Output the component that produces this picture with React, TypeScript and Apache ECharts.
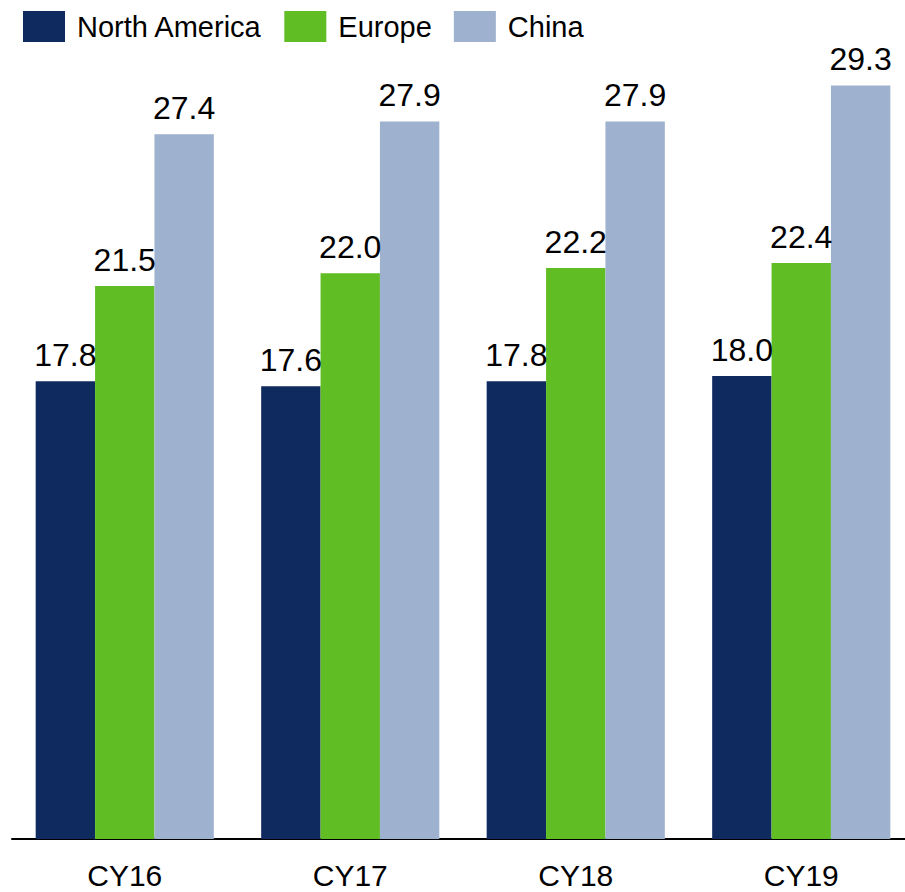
import React, { useEffect, useRef } from "react";
import * as echarts from "echarts";

const categories = ["CY16", "CY17", "CY18", "CY19"];
const seriesNames = ["North America", "Europe", "China"];
const northAmerica = [17.8, 17.6, 17.8, 18.0];
const europe = [21.5, 22.0, 22.2, 22.4];
const china = [27.4, 27.9, 27.9, 29.3];
const colors = ["#0f2a5f", "#60bd24", "#9eb1cf"];

const FONT = "'Liberation Sans', Arial, Helvetica, sans-serif";

export default function App() {
  const ref = useRef<HTMLDivElement>(null);
  useEffect(() => {
    if (!ref.current) return;
    const chart = echarts.init(ref.current, null, { renderer: "svg" });
    const values = [northAmerica, europe, china];
    chart.setOption({
      animation: false,
      backgroundColor: "#ffffff",
      color: colors,
      legend: {
        left: 23,
        top: 11,
        padding: 0,
        itemWidth: 42,
        itemHeight: 31,
        itemGap: 22,
        icon: "rect",
        textStyle: {
          fontFamily: FONT,
          fontSize: 29,
          color: "#000",
          padding: [0, 0, 0, 7],
        },
        data: seriesNames,
      },
      grid: {
        left: 12,
        width: 902,
        top: 16,
        bottom: 53,
        containLabel: false,
        outerBoundsMode: "none",
      },
      xAxis: {
        type: "category",
        data: categories,
        axisLine: { show: true, lineStyle: { color: "#000", width: 2 } },
        axisTick: { show: false },
        axisLabel: {
          fontFamily: FONT,
          fontSize: 30,
          color: "#000",
          margin: 21,
        },
      },
      yAxis: {
        type: "value",
        min: 0,
        max: 32,
        show: false,
        splitLine: { show: false },
      },
      series: seriesNames.map((name, i) => ({
        name,
        type: "bar",
        data: values[i],
        barGap: "0%",
        barCategoryGap: "21%",
        itemStyle: { color: colors[i] },
        label: {
          show: true,
          position: "top",
          distance: 10,
          fontFamily: FONT,
          fontSize: 32,
          color: "#000",
          formatter: (p: any) => Number(p.value).toFixed(1),
        },
      })),
    });
    return () => chart.dispose();
  }, []);
  return (
    <div
      ref={ref}
      style={{ position: "fixed", left: 0, top: 0, width: 905, height: 892 }}
    />
  );
}
